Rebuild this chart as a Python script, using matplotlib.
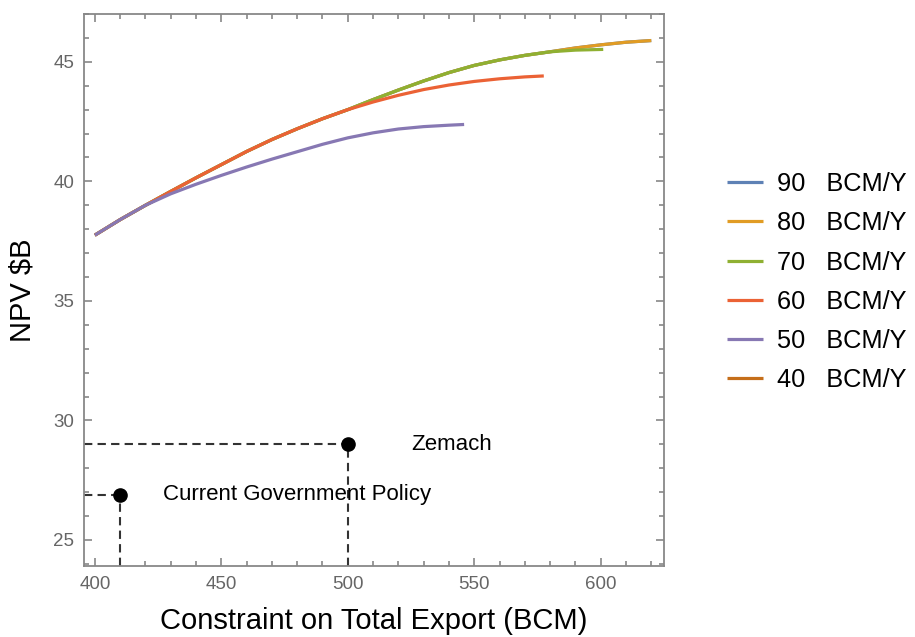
import matplotlib.pyplot as plt
from matplotlib.ticker import MultipleLocator

plt.rcParams['font.family'] = ['Liberation Sans', 'DejaVu Sans']

# NPV curves for each annual export cap (x: total export constraint, y: NPV $B)
x50 = [400, 410, 420, 430, 440, 450, 460, 470, 480, 490, 500, 510, 520, 530, 540, 546]
y50 = [37.75, 38.40, 39.00, 39.48, 39.88, 40.25, 40.60, 40.93, 41.24, 41.55, 41.82,
       42.03, 42.19, 42.29, 42.35, 42.38]

x60 = [400, 410, 420, 430, 440, 450, 460, 470, 480, 490, 500, 510, 520, 530, 540,
       550, 560, 570, 577.5]
y60 = [37.75, 38.40, 39.00, 39.58, 40.15, 40.70, 41.25, 41.75, 42.20, 42.62, 43.00,
       43.32, 43.60, 43.84, 44.03, 44.18, 44.29, 44.37, 44.41]

x70 = [400, 410, 420, 430, 440, 450, 460, 470, 480, 490, 500, 510, 520, 530, 540,
       550, 560, 570, 580, 590, 601]
y70 = [37.75, 38.40, 39.00, 39.58, 40.15, 40.70, 41.25, 41.75, 42.20, 42.62, 43.00,
       43.42, 43.82, 44.20, 44.55, 44.85, 45.08, 45.27, 45.42, 45.49, 45.52]

x80 = [400, 410, 420, 430, 440, 450, 460, 470, 480, 490, 500, 510, 520, 530, 540,
       550, 560, 570, 580, 590, 600, 610, 620]
y80 = [37.75, 38.40, 39.00, 39.58, 40.15, 40.70, 41.25, 41.75, 42.20, 42.62, 43.00,
       43.42, 43.82, 44.20, 44.55, 44.85, 45.08, 45.27, 45.42, 45.58, 45.71, 45.82, 45.89]

# 90 BCM/Y never binds beyond 80, 40 BCM/Y has no feasible points
x90, y90 = x80, y80
x40, y40 = [], []

caps = [90, 80, 70, 60, 50, 40]
series = [(x90, y90), (x80, y80), (x70, y70), (x60, y60), (x50, y50), (x40, y40)]
colors = ['#5E81B5', '#E19C24', '#8FB032', '#EB6235', '#8778B3', '#C56E1A']

# policy points
policy_names = ['Current Government Policy', 'Zemach']
policy_x = [410, 500]
policy_y = [26.9, 29.0]
label_x = [480, 541]

fig = plt.figure(figsize=(9.15, 6.37), dpi=100)
ax = fig.add_axes([0.0918, 0.111, 0.6338, 0.867])

for cap, (xs, ys), c in zip(caps, series, colors):
    ax.plot(xs, ys, color=c, lw=2.3, label=f'{cap}   BCM/Y', solid_capstyle='butt')

xmin, xmax = 395.7, 625
ymin, ymax = 23.9, 47.0
for name, px, py, lx in zip(policy_names, policy_x, policy_y, label_x):
    ax.plot([xmin, px], [py, py], color='#333333', lw=1.5, ls=(0, (4, 2.5)))
    ax.plot([px, px], [ymin, py], color='#333333', lw=1.5, ls=(0, (4, 2.5)))
    ax.plot(px, py, 'o', color='black', ms=9.5, zorder=5)
    ax.text(lx, py, name, fontsize=16, ha='center', va='center')

ax.set_xlim(xmin, xmax)
ax.set_ylim(ymin, ymax)
ax.xaxis.set_major_locator(MultipleLocator(50))
ax.xaxis.set_minor_locator(MultipleLocator(10))
ax.yaxis.set_major_locator(MultipleLocator(5))
ax.yaxis.set_minor_locator(MultipleLocator(1))
ax.tick_params(which='both', direction='in', top=True, right=True,
               colors='#888888', labelcolor='#666666', width=1.2)
ax.tick_params(which='major', length=6, labelsize=13.5, pad=7)
ax.tick_params(which='minor', length=3.5)
for s in ax.spines.values():
    s.set_color('#888888')
    s.set_linewidth(1.3)

ax.set_xlabel('Constraint on Total Export (BCM)', fontsize=21, labelpad=10)
ax.set_ylabel('NPV \\$B', fontsize=21, labelpad=12)

fig.legend(loc='center left', bbox_to_anchor=(0.794, 0.557), frameon=False,
           fontsize=18.3, handlelength=1.44, handletextpad=0.54, labelspacing=0.6,
           borderpad=0, borderaxespad=0)

fig.savefig('out.png', dpi=100)
